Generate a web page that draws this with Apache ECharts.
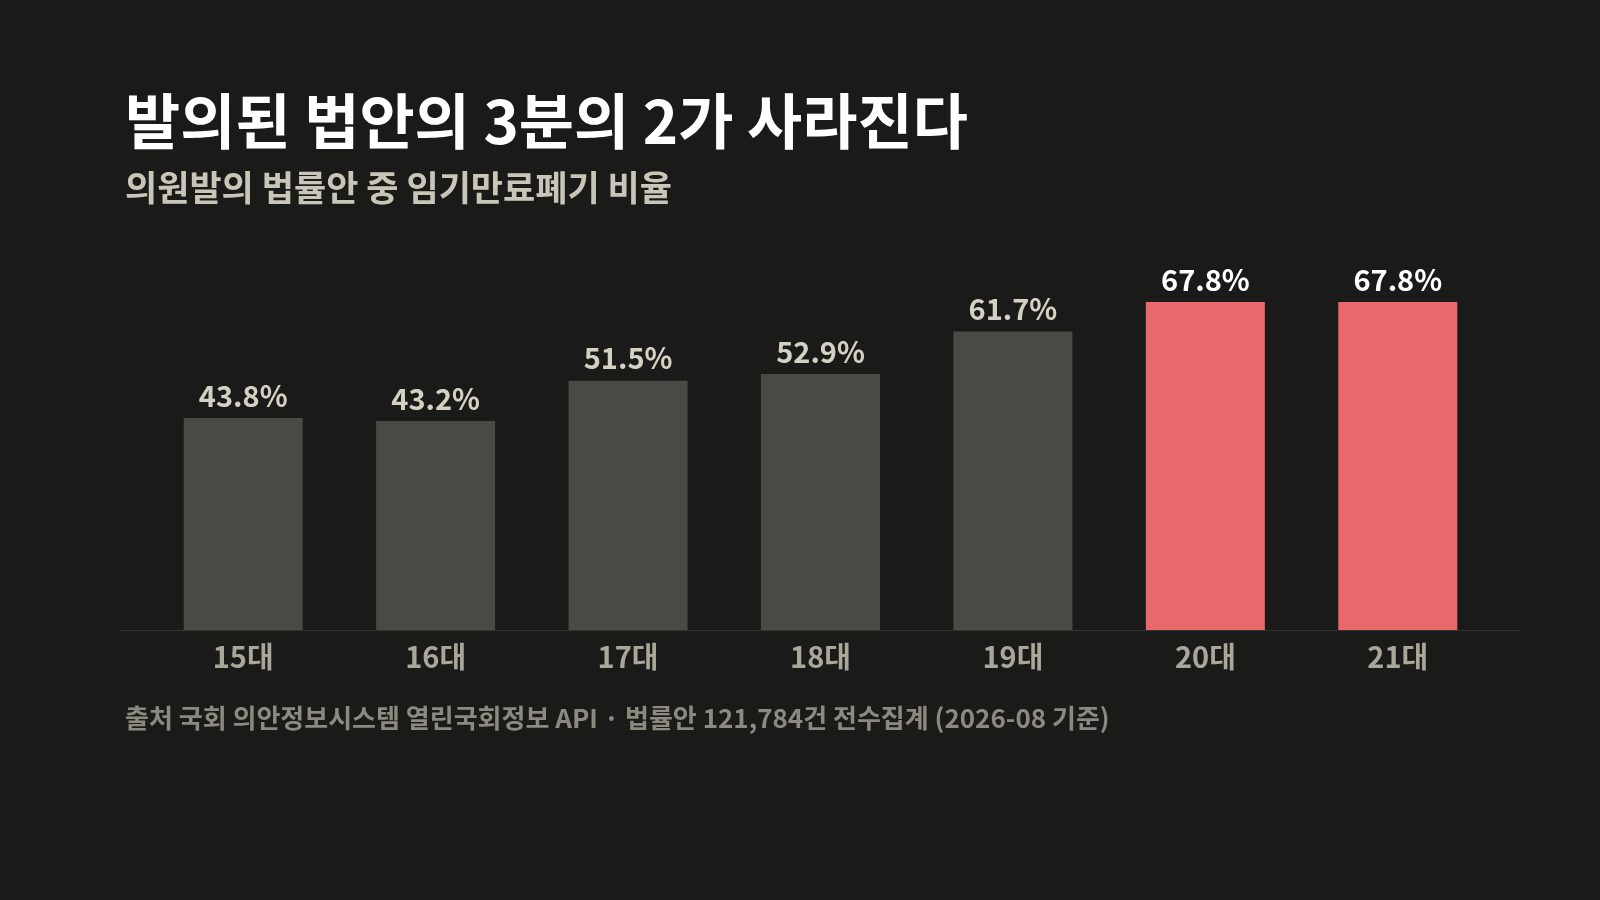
<!DOCTYPE html>
<html><head><meta charset="utf-8">
<script src="https://cdn.jsdelivr.net/npm/echarts@6/dist/echarts.min.js"></script>
<style>html,body{margin:0;background:#1a1a18}#c{width:1600px;height:900px}</style>
</head><body><div id="c"></div>
<script>
const categories = ['15대','16대','17대','18대','19대','20대','21대'];
const values = [43.8,43.2,51.5,52.9,61.7,67.8,67.8];
const highlight = [false,false,false,false,false,true,true];
const F = '"Noto Sans CJK KR","Noto Sans",sans-serif';
const chart = echarts.init(document.getElementById('c'));
chart.setOption({
  backgroundColor:'#1a1a18',
  title:[
    {text:'발의된 법안의 3분의 2가 사라진다',left:120,top:86,textStyle:{color:'#ffffff',fontSize:60,fontWeight:'bold',fontFamily:F}},
    {text:'의원발의 법률안 중 임기만료폐기 비율',left:120,top:165,textStyle:{color:'#c9c5b9',fontSize:35,fontWeight:'bold',fontFamily:F}},
    {text:'출처 국회 의안정보시스템 열린국회정보 API · 법률안 121,784건 전수집계 (2026-08 기준)',left:120,top:700,textStyle:{color:'#8c8981',fontSize:26,fontWeight:'bold',fontFamily:F}}
  ],
  graphic:[{type:'line',shape:{x1:120,y1:630.5,x2:1520,y2:630.5},style:{stroke:'#34342f',lineWidth:1},z:0}],
  grid:{left:147,right:106,top:243,bottom:270},
  xAxis:{type:'category',data:categories,axisLine:{show:false},axisTick:{show:false},
    axisLabel:{color:'#aaa69c',fontSize:29,fontWeight:'bold',fontFamily:F,margin:12}},
  yAxis:{type:'value',min:0,max:80,show:false,splitLine:{show:false}},
  series:[{type:'bar',barWidth:119,
    data:values.map((v,i)=>({value:v,itemStyle:{color:highlight[i]?'#e8696b':'#4a4a45'},
      label:{color:highlight[i]?'#ffffff':'#d4d0c4'}})),
    label:{show:true,position:'top',distance:8,formatter:p=>p.value.toFixed(1)+'%',fontSize:29,fontWeight:'bold',fontFamily:F}}]
});
</script></body></html>
